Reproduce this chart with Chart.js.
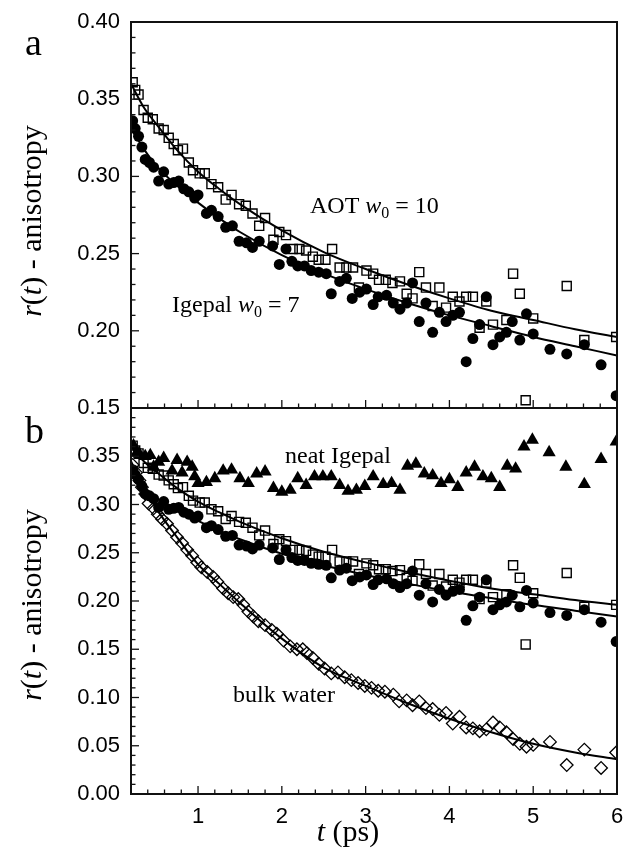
<!DOCTYPE html>
<html><head><meta charset="utf-8">
<script src="https://cdn.jsdelivr.net/npm/chart.js@4.4.1/dist/chart.umd.min.js"></script>
<style>html,body{margin:0;padding:0;background:#fff;}canvas{display:block;}</style>
</head><body>
<canvas id="c" width="626" height="859"></canvas>
<script>
// ---------- data ----------
const aotTime = [0.22,0.25,0.29,0.35,0.40,0.46,0.53,0.59,0.65,0.71,0.76,0.82,0.89,0.94,1.02,1.08,1.16,1.24,1.33,1.40,1.49,1.57,1.65,1.73,1.80,1.90,1.97,2.05,2.13,2.21,2.29,2.37,2.44,2.52,2.60,2.69,2.77,2.85,2.92,3.01,3.09,3.16,3.24,3.32,3.41,3.49,3.56,3.64,3.72,3.80,3.88,3.96,4.04,4.12,4.20,4.28,4.36,4.44,4.52,4.68,4.76,4.84,4.91,5.00,5.40,5.61,5.99];
const aotAniso = [0.361,0.356,0.353,0.343,0.338,0.337,0.331,0.330,0.325,0.321,0.317,0.318,0.309,0.304,0.302,0.302,0.295,0.293,0.285,0.288,0.282,0.281,0.276,0.268,0.273,0.259,0.264,0.262,0.253,0.253,0.252,0.248,0.246,0.246,0.253,0.241,0.241,0.241,0.228,0.239,0.237,0.233,0.233,0.231,0.232,0.224,0.221,0.238,0.228,0.216,0.228,0.215,0.222,0.219,0.222,0.222,0.202,0.219,0.204,0.207,0.237,0.224,0.155,0.208,0.229,0.194,0.196];

const igepalTime = [0.22,0.25,0.29,0.33,0.37,0.42,0.47,0.53,0.59,0.65,0.71,0.77,0.83,0.89,0.96,1.00,1.10,1.16,1.24,1.33,1.41,1.49,1.58,1.65,1.73,1.89,1.97,2.05,2.12,2.19,2.27,2.35,2.44,2.53,2.59,2.69,2.77,2.84,2.93,3.01,3.09,3.15,3.25,3.33,3.41,3.49,3.56,3.64,3.72,3.80,3.88,3.96,4.04,4.12,4.20,4.28,4.36,4.44,4.52,4.60,4.68,4.75,4.84,4.92,5.00,5.20,5.40,5.61,5.81,5.99];
const igepalAniso = [0.336,0.331,0.326,0.319,0.311,0.309,0.306,0.297,0.303,0.295,0.296,0.297,0.292,0.290,0.286,0.288,0.276,0.278,0.274,0.267,0.268,0.258,0.257,0.254,0.258,0.255,0.243,0.253,0.245,0.242,0.242,0.239,0.238,0.237,0.224,0.232,0.234,0.221,0.225,0.227,0.217,0.222,0.223,0.218,0.214,0.218,0.231,0.206,0.218,0.199,0.212,0.206,0.210,0.212,0.180,0.195,0.204,0.222,0.191,0.196,0.199,0.206,0.194,0.211,0.198,0.188,0.185,0.191,0.178,0.158];

const neatTime = [0.23,0.27,0.31,0.37,0.43,0.47,0.53,0.59,0.69,0.75,0.81,0.87,0.93,0.96,1.00,1.10,1.20,1.30,1.40,1.50,1.60,1.70,1.80,1.90,2.00,2.10,2.19,2.29,2.39,2.49,2.59,2.69,2.79,2.89,2.99,3.09,3.21,3.31,3.41,3.50,3.60,3.70,3.80,3.90,4.00,4.10,4.20,4.30,4.40,4.50,4.60,4.69,4.79,4.89,4.99,5.19,5.39,5.61,5.81,5.99];
const neatAniso = [0.361,0.354,0.351,0.350,0.351,0.339,0.344,0.348,0.335,0.346,0.333,0.344,0.339,0.329,0.322,0.323,0.327,0.335,0.336,0.327,0.322,0.332,0.334,0.317,0.313,0.315,0.327,0.320,0.329,0.329,0.329,0.320,0.314,0.315,0.319,0.329,0.321,0.322,0.315,0.340,0.342,0.332,0.330,0.322,0.326,0.318,0.333,0.339,0.329,0.327,0.318,0.340,0.337,0.360,0.367,0.354,0.339,0.321,0.347,0.365];

const waterTime = [0.22,0.26,0.30,0.33,0.37,0.41,0.47,0.52,0.57,0.63,0.69,0.75,0.81,0.87,0.93,0.99,1.04,1.11,1.18,1.23,1.30,1.36,1.42,1.48,1.54,1.60,1.66,1.72,1.80,1.88,1.94,2.02,2.10,2.18,2.25,2.30,2.37,2.44,2.51,2.59,2.67,2.75,2.83,2.91,2.99,3.07,3.15,3.23,3.33,3.40,3.49,3.56,3.64,3.72,3.80,3.88,3.96,4.04,4.12,4.20,4.28,4.36,4.44,4.52,4.60,4.68,4.76,4.84,4.92,5.00,5.20,5.40,5.61,5.81,5.99];
const waterAniso = [0.341,0.333,0.325,0.318,0.311,0.301,0.296,0.290,0.285,0.280,0.273,0.266,0.260,0.253,0.247,0.240,0.235,0.230,0.225,0.220,0.213,0.208,0.204,0.202,0.196,0.189,0.184,0.179,0.175,0.170,0.166,0.159,0.153,0.150,0.150,0.146,0.141,0.135,0.130,0.125,0.126,0.121,0.118,0.115,0.112,0.110,0.107,0.106,0.103,0.096,0.097,0.092,0.096,0.089,0.088,0.082,0.084,0.073,0.080,0.069,0.068,0.065,0.067,0.074,0.069,0.064,0.057,0.052,0.049,0.051,0.054,0.030,0.046,0.027,0.043];

// fitted curves
const fitTime = [0.2,0.35,0.5,0.75,1.0,1.25,1.5,2.0,2.5,3.0,3.5,4.0,4.5,5.0,5.5,6.0];
const aotFit = [0.360,0.345,0.334,0.317,0.303,0.292,0.282,0.265,0.251,0.240,0.230,0.221,0.213,0.207,0.201,0.196];
const igepalFit = [0.331,0.318,0.307,0.294,0.283,0.273,0.264,0.249,0.237,0.227,0.218,0.210,0.203,0.196,0.190,0.184];
const waterFit = [0.345,0.318,0.296,0.266,0.238,0.218,0.198,0.161,0.131,0.112,0.094,0.078,0.064,0.052,0.043,0.036];

const xTickLabels = ['1','2','3','4','5','6'];
const yTickLabelsA = ['0.15','0.20','0.25','0.30','0.35','0.40'];
const yTickLabelsB = ['0.00','0.05','0.10','0.15','0.20','0.25','0.30','0.35'];

// ---------- chart ----------
const SERIF = '"Liberation Serif","Times New Roman",serif';
const SANS = '"Liberation Sans",Arial,sans-serif';
const pts = (xs, ys) => xs.map((x, i) => ({x: x, y: ys[i]}));
const fitStyle = {showLine: true, borderColor: '#000', borderWidth: 2, pointRadius: 0, cubicInterpolationMode: 'monotone', fill: false};
const sq = {pointStyle: 'rect', pointRadius: 6.4, borderColor: '#000', backgroundColor: 'rgba(0,0,0,0)', pointBorderWidth: 1.4, showLine: false};
const ci = {pointStyle: 'circle', pointRadius: 5.5, borderColor: '#000', backgroundColor: '#000', pointBorderWidth: 0, showLine: false};
const tri = {pointStyle: 'triangle', pointRadius: 7.6, borderColor: '#000', backgroundColor: '#000', pointBorderWidth: 0, showLine: false};
const dia = {pointStyle: 'rectRot', pointRadius: 6.3, borderColor: '#000', backgroundColor: 'rgba(0,0,0,0)', pointBorderWidth: 1.3, showLine: false};

const datasets = [
  Object.assign({label: 'AOT fit (a)', data: pts(fitTime, aotFit), yAxisID: 'ya'}, fitStyle),
  Object.assign({label: 'Igepal fit (a)', data: pts(fitTime, igepalFit), yAxisID: 'ya'}, fitStyle),
  Object.assign({label: 'AOT fit (b)', data: pts(fitTime, aotFit), yAxisID: 'yb'}, fitStyle),
  Object.assign({label: 'Igepal fit (b)', data: pts(fitTime, igepalFit), yAxisID: 'yb'}, fitStyle),
  Object.assign({label: 'bulk water fit', data: pts(fitTime, waterFit), yAxisID: 'yb'}, fitStyle),
  Object.assign({label: 'AOT w0=10 (a)', data: pts(aotTime, aotAniso), yAxisID: 'ya'}, sq),
  Object.assign({label: 'Igepal w0=7 (a)', data: pts(igepalTime, igepalAniso), yAxisID: 'ya'}, ci),
  Object.assign({label: 'AOT w0=10 (b)', data: pts(aotTime, aotAniso), yAxisID: 'yb'}, sq),
  Object.assign({label: 'Igepal w0=7 (b)', data: pts(igepalTime, igepalAniso), yAxisID: 'yb'}, ci),
  Object.assign({label: 'neat Igepal', data: pts(neatTime, neatAniso), yAxisID: 'yb'}, tri),
  Object.assign({label: 'bulk water', data: pts(waterTime, waterAniso), yAxisID: 'yb'}, dia)
];

const isInt = v => Math.abs(v - Math.round(v)) < 1e-6;
const isMaj = v => Math.abs(v * 20 - Math.round(v * 20)) < 1e-6;
const fmt = v => v.toFixed(2);

function richText(ctx, x, y, segs) {
  let cx = x;
  segs.forEach(s => {
    ctx.font = s.font;
    ctx.fillText(s.text, cx, y + (s.dy || 0));
    cx += ctx.measureText(s.text).width;
  });
  return cx - x;
}
function richWidth(ctx, segs) {
  let w = 0;
  segs.forEach(s => { ctx.font = s.font; w += ctx.measureText(s.text).width; });
  return w;
}

const decor = {
  id: 'decor',
  afterDraw(chart) {
    const ctx = chart.ctx, ca = chart.chartArea;
    const xs = chart.scales.x, ya = chart.scales.ya, yb = chart.scales.yb;
    const line = (x1, y1, x2, y2) => { ctx.beginPath(); ctx.moveTo(x1, y1); ctx.lineTo(x2, y2); ctx.stroke(); };
    ctx.save();
    ctx.strokeStyle = '#111';
    ctx.lineWidth = 1.3;
    [ya, yb].forEach(s => {
      s.ticks.forEach(t => {
        const y = s.getPixelForValue(t.value);
        if (y <= s.top + 1 || y >= s.bottom - 1) return;
        line(ca.left, y, ca.left + (isMaj(t.value) ? 8 : 4.5), y);
      });
    });
    xs.ticks.forEach(t => {
      const x = xs.getPixelForValue(t.value);
      if (x <= ca.left + 1 || x >= ca.right - 1) return;
      const len = isInt(t.value) ? 8 : 4.5;
      line(x, ca.bottom, x, ca.bottom - len);
      line(x, ya.bottom, x, ya.bottom - len);
    });
    ctx.lineWidth = 2;
    ctx.strokeRect(ca.left, ca.top, ca.right - ca.left, ca.bottom - ca.top);
    line(ca.left, ya.bottom, ca.right, ya.bottom);

    ctx.fillStyle = '#000';
    ctx.textAlign = 'left';
    ctx.textBaseline = 'alphabetic';
    const N = sz => sz + 'px ' + SERIF;
    const I = sz => 'italic ' + sz + 'px ' + SERIF;
    // panel letters
    ctx.font = N(38);
    ctx.fillText('a', 25, 55);
    ctx.fillText('b', 25, 443);
    // annotations
    richText(ctx, 310, 213, [{text: 'AOT ', font: N(24)}, {text: 'w', font: I(24)}, {text: '0', font: N(16), dy: 5}, {text: ' = 10', font: N(24)}]);
    richText(ctx, 172, 312, [{text: 'Igepal ', font: N(24)}, {text: 'w', font: I(24)}, {text: '0', font: N(16), dy: 5}, {text: ' = 7', font: N(24)}]);
    richText(ctx, 285, 463, [{text: 'neat Igepal', font: N(24)}]);
    richText(ctx, 233, 702, [{text: 'bulk water', font: N(24)}]);
    // x title
    const xt = [{text: 't', font: I(30)}, {text: ' (ps)', font: N(30)}];
    const xw = richWidth(ctx, xt);
    richText(ctx, 348 - xw / 2, 841, xt);
    // y titles
    const yt = [{text: 'r', font: I(30)}, {text: '(', font: N(30)}, {text: 't', font: I(30)}, {text: ') - anisotropy', font: N(30)}];
    const yw = richWidth(ctx, yt);
    [[(ya.top + ya.bottom) / 2 + 6, ya], [(yb.top + yb.bottom) / 2 + 4, yb]].forEach(p => {
      ctx.save();
      ctx.translate(41, p[0]);
      ctx.rotate(-Math.PI / 2);
      richText(ctx, -yw / 2, 0, yt);
      ctx.restore();
    });
    ctx.restore();
  }
};

const yTickCommon = (labels) => ({
  stepSize: 0.01, autoSkip: false, padding: 11, color: '#000',
  font: {family: SANS, size: 22},
  callback: v => (isMaj(v) && labels.indexOf(fmt(v)) >= 0) ? fmt(v) : ''
});
const fitY = s => { s.width = 131; s.paddingTop = 0; s.paddingBottom = 0; };

new Chart(document.getElementById('c'), {
  type: 'scatter',
  data: {datasets: datasets},
  options: {
    responsive: false,
    animation: false,
    devicePixelRatio: 1,
    layout: {padding: {top: 22, right: 9, left: 0, bottom: 0}},
    plugins: {legend: {display: false}, tooltip: {enabled: false}},
    scales: {
      x: {
        type: 'linear', position: 'bottom', min: 0.2, max: 6,
        ticks: {stepSize: 0.2, autoSkip: false, maxRotation: 0, minRotation: 0, padding: 10, color: '#000',
          font: {family: SANS, size: 22},
          callback: v => (isInt(v) && xTickLabels.indexOf(String(Math.round(v))) >= 0) ? String(Math.round(v)) : ''},
        grid: {display: false, drawTicks: false}, border: {display: false},
        afterFit: s => { s.height = 65; s.paddingLeft = 0; s.paddingRight = 0; }
      },
      yb: {
        type: 'linear', position: 'left', stack: 'panels', stackWeight: 1, min: 0, max: 0.40,
        ticks: yTickCommon(yTickLabelsB),
        grid: {display: false, drawTicks: false}, border: {display: false},
        afterFit: fitY
      },
      ya: {
        type: 'linear', position: 'left', stack: 'panels', stackWeight: 1, min: 0.15, max: 0.40,
        ticks: yTickCommon(yTickLabelsA),
        grid: {display: false, drawTicks: false}, border: {display: false},
        afterFit: fitY
      }
    }
  },
  plugins: [decor]
});
</script>
</body></html>
